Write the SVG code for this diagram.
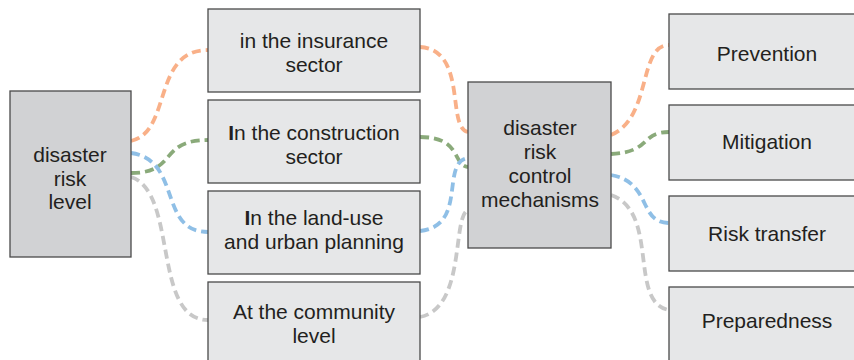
<svg xmlns="http://www.w3.org/2000/svg" width="854" height="360" viewBox="0 0 854 360">
  <style>
    .box { stroke: #4a4a4a; stroke-width: 1.3; }
    .main { fill: #d1d2d4; }
    .sub { fill: #e6e7e8; }
    text { font-family: "Liberation Sans", Arial, sans-serif; font-size: 21px; fill: #231f20; text-anchor: middle; }
    .link { fill: none; stroke-width: 3.8; stroke-dasharray: 9 5; }
    .orange { stroke: #f9b088; }
    .green { stroke: #8aaa7a; }
    .blue { stroke: #8fbfe6; }
    .gray { stroke: #c8c8c8; }
  </style>
  <rect width="854" height="360" fill="#ffffff"/>

  <g id="connectors">
    <!-- risk level to sectors -->
    <path class="link orange" d="M131,141 C172,132 152,50 208,50"/>
    <path class="link green" d="M131,173 C178,173 158,140 208,140"/>
    <path class="link blue" d="M131,153 C182,160 158,232 208,232"/>
    <path class="link gray" d="M131,177 C178,192 152,320 208,320"/>
    <!-- sectors to control mechanisms -->
    <path class="link orange" d="M420,47 C468,50 446,128 468,132"/>
    <path class="link green" d="M420,137 C462,137 452,165 468,167"/>
    <path class="link blue" d="M420,231 C468,226 440,162 468,158"/>
    <path class="link gray" d="M420,317 C466,308 452,216 468,210"/>
    <!-- control mechanisms to measures -->
    <path class="link orange" d="M611,135 C652,118 638,45 669,45"/>
    <path class="link green" d="M611,154 C652,152 640,132 669,132"/>
    <path class="link blue" d="M611,175 C652,182 638,223 669,223"/>
    <path class="link gray" d="M611,195 C660,212 628,303 669,310"/>
  </g>

  <g id="risk-level">
    <rect class="box main" x="10" y="91" width="121" height="166"/>
    <text x="70" y="162">disaster</text>
    <text x="70" y="186">risk</text>
    <text x="70" y="209">level</text>
  </g>

  <g id="insurance">
    <rect class="box sub" x="208" y="9" width="212" height="83"/>
    <text x="314" y="48">in the insurance</text>
    <text x="314" y="72">sector</text>
  </g>
  <g id="construction">
    <rect class="box sub" x="208" y="100" width="212" height="83"/>
    <text x="314" y="140"><tspan font-weight="bold">I</tspan>n the construction</text>
    <text x="314" y="164">sector</text>
  </g>
  <g id="land-use">
    <rect class="box sub" x="208" y="191" width="212" height="83"/>
    <text x="314" y="225"><tspan font-weight="bold">I</tspan>n the land-use</text>
    <text x="314" y="249">and urban planning</text>
  </g>
  <g id="community">
    <rect class="box sub" x="208" y="282" width="212" height="84"/>
    <text x="314" y="319">At the community</text>
    <text x="314" y="343">level</text>
  </g>

  <g id="control">
    <rect class="box main" x="468" y="82" width="143" height="166"/>
    <text x="540" y="135">disaster</text>
    <text x="540" y="159">risk</text>
    <text x="540" y="183">control</text>
    <text x="540" y="207">mechanisms</text>
  </g>

  <g id="prevention">
    <rect class="box sub" x="669" y="14" width="198" height="75"/>
    <text x="767" y="61">Prevention</text>
  </g>
  <g id="mitigation">
    <rect class="box sub" x="669" y="105" width="198" height="75"/>
    <text x="767" y="149">Mitigation</text>
  </g>
  <g id="risk-transfer">
    <rect class="box sub" x="669" y="196" width="198" height="75"/>
    <text x="767" y="241">Risk transfer</text>
  </g>
  <g id="preparedness">
    <rect class="box sub" x="669" y="287" width="198" height="75"/>
    <text x="767" y="328">Preparedness</text>
  </g>
</svg>
